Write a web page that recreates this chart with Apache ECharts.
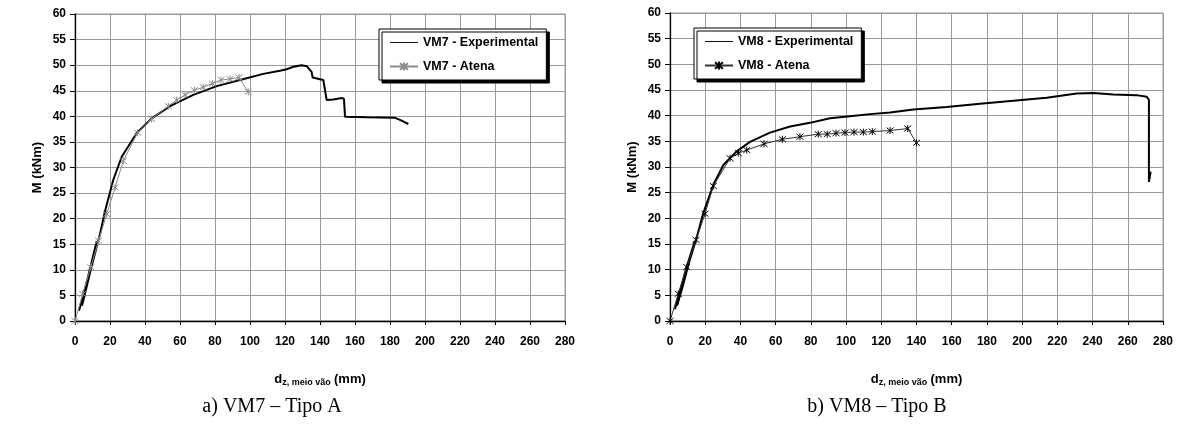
<!DOCTYPE html>
<html>
<head>
<meta charset="utf-8">
<script src="https://cdn.jsdelivr.net/npm/echarts@6/dist/echarts.min.js"></script>
<style>
html,body{margin:0;padding:0;background:#fff;}
#c{width:1182px;height:428px;}
</style>
</head>
<body>
<div id="c"></div>
<script>
// ---- Data ----
const xTicks = [0,20,40,60,80,100,120,140,160,180,200,220,240,260,280];
const yTicks = [0,5,10,15,20,25,30,35,40,45,50,55,60];

const vm7Experimental = [
  [2.3,2],[7,8],[12.4,15.6],[6,6],[4,3],[9,10],[14.3,17],[17.1,21.4],[21.9,27.6],[26.7,32.1],
  [35.2,36.7],[43.8,39.6],[54.3,42],[67.6,44.2],[81,45.9],[94.3,47.1],[107.6,48.3],[117.1,48.9],
  [121,49.2],[124.8,49.7],[129.5,50],[132.4,49.8],[135.2,48.7],[135.8,47.6],[141.9,47.1],[142.9,46.8],
  [143.8,43.2],[147.6,43.3],[152.4,43.6],[153.7,43.4],[154.3,39.9],[166.7,39.8],[182.9,39.7],
  [185.7,39.3],[190.5,38.5]
];
const vm7Atena = [
  [0,0],[4.4,5.3],[9,10.5],[13.5,15.7],[18.1,20.9],[22.9,26.1],[27.6,31.3],[35.8,36.8],[43.8,39.5],
  [53.3,42],[58.1,43.2],[62.9,44.2],[68.2,45.1],[73.3,45.7],[78.5,46.4],[83.4,47.1],[88.6,47.3],
  [93.7,47.6],[99,44.8]
];
const vm8Experimental = [
  [2.8,2.3],[9,10],[14,15.5],[7,6.5],[4,3],[10,10.5],[15.2,16.3],[18.9,21],[24.6,26.5],[30.3,30.4],
  [37.7,33],[45.4,34.9],[56.8,36.7],[68.2,37.9],[79.5,38.6],[87.1,39.2],[90.9,39.5],[102.2,39.9],
  [113.6,40.3],[125,40.6],[138.2,41.2],[157.1,41.7],[176.1,42.3],[195,42.9],[213.9,43.5],[231,44.3],
  [240.4,44.4],[251.8,44.1],[265,44],[270.7,43.7],[272,43.1],[272,27.1],[273,29.1]
];
const vm8Atena = [
  [0,0],[4.7,5.3],[9.5,10.5],[14.8,15.8],[19.9,20.9],[24.6,26.3],[34.1,31.7],[38.8,32.7],[43.6,33.3],
  [53.4,34.5],[63.8,35.4],[73.8,35.9],[84.2,36.4],[89.3,36.4],[94.3,36.6],[99.4,36.7],[104.5,36.8],
  [109.8,36.8],[114.9,36.9],[125,37.1],[135,37.5],[140,34.7]
];
const seriesNames = ['VM7 - Experimental','VM7 - Atena','VM8 - Experimental','VM8 - Atena'];
const captions = ['a) VM7 \u2013 Tipo A','b) VM8 \u2013 Tipo B'];
const yAxisTitle = 'M (kNm)';

// ---- Styling ----
const FONT = '"Liberation Sans", Arial, sans-serif';
const starPath = 'path://M0,0L10,10M10,0L0,10M5,-1L5,11';

function xAxis(gi){
  return {
    type:'value', gridIndex:gi, min:xTicks[0], max:xTicks[xTicks.length-1], interval:20,
    axisLine:{show:true,onZero:false,lineStyle:{color:'#000',width:1.3}},
    axisTick:{show:true,inside:false,length:4,lineStyle:{color:'#000'}},
    axisLabel:{color:'#000',fontFamily:FONT,fontWeight:'bold',fontSize:12,margin:15},
    splitLine:{show:true,lineStyle:{color:'#9a9a9a',width:1}},
    name:'{d|d}{s|z, meio vão} {d|(mm)}', nameLocation:'middle', nameGap:50,
    nameTextStyle:{rich:{
      d:{fontFamily:FONT,fontWeight:'bold',fontSize:13,color:'#000'},
      s:{fontFamily:FONT,fontWeight:'bold',fontSize:9,color:'#000',verticalAlign:'bottom',padding:[7,0,0,0]}
    }}
  };
}
function yAxis(gi){
  return {
    type:'value', gridIndex:gi, min:yTicks[0], max:yTicks[yTicks.length-1], interval:5,
    axisLine:{show:true,onZero:false,lineStyle:{color:'#000',width:1.3}},
    axisTick:{show:true,inside:false,length:5,lineStyle:{color:'#000'}},
    axisLabel:{color:'#000',fontFamily:FONT,fontWeight:'bold',fontSize:12,margin:9},
    splitLine:{show:true,lineStyle:{color:'#9a9a9a',width:1}},
    name:yAxisTitle, nameLocation:'middle', nameGap:31, nameRotate:90,
    nameTextStyle:{fontFamily:FONT,fontWeight:'bold',fontSize:13,color:'#000'}
  };
}
function legend(names, left, top, w){
  return {
    data:[{name:names[0], icon:'path://M0,0L30,0L30,1L0,1Z', itemStyle:{color:'#000'}}, {name:names[1]}],
    orient:'vertical', left:left, top:top, width:w,
    backgroundColor:'#fff', borderColor:'#000', borderWidth:1,
    shadowColor:'#000', shadowOffsetX:3, shadowOffsetY:3, shadowBlur:0,
    padding:[7,8,7,10], itemGap:11, itemWidth:28, itemHeight:10,
    textStyle:{fontFamily:FONT,fontWeight:'bold',fontSize:12.5,color:'#000'},
    selectedMode:false
  };
}

const option = {
  animation:false,
  backgroundColor:'#fff',
  grid:[
    {left:75, top:14, width:490, height:307, show:true, borderColor:'#9a9a9a', borderWidth:1, backgroundColor:'transparent'},
    {left:670, top:13, width:493, height:308, show:true, borderColor:'#9a9a9a', borderWidth:1, backgroundColor:'transparent'}
  ],
  xAxis:[xAxis(0), xAxis(1)],
  yAxis:[yAxis(0), yAxis(1)],
  legend:[
    legend([seriesNames[0],seriesNames[1]], 379, 29, 160),
    legend([seriesNames[2],seriesNames[3]], 694, 28, 165)
  ],
  series:[
    {name:seriesNames[0], type:'line', xAxisIndex:0, yAxisIndex:0, data:vm7Experimental,
     showSymbol:false, symbol:'none', lineStyle:{color:'#000',width:2}, itemStyle:{color:'#000'}, z:3},
    {name:seriesNames[1], type:'line', xAxisIndex:0, yAxisIndex:0, data:vm7Atena,
     symbol:starPath, symbolSize:7, showSymbol:true,
     lineStyle:{color:'#8c8c8c',width:1}, itemStyle:{color:'#8c8c8c',borderColor:'#8c8c8c',borderWidth:1}, z:4},
    {name:seriesNames[2], type:'line', xAxisIndex:1, yAxisIndex:1, data:vm8Experimental,
     showSymbol:false, symbol:'none', lineStyle:{color:'#000',width:2}, itemStyle:{color:'#000'}, z:3},
    {name:seriesNames[3], type:'line', xAxisIndex:1, yAxisIndex:1, data:vm8Atena,
     symbol:starPath, symbolSize:7, showSymbol:true,
     lineStyle:{color:'#333',width:1}, itemStyle:{color:'#000',borderColor:'#000',borderWidth:1}, z:4}
  ],
  graphic:[
    {type:'text', style:{text:captions[0], font:'20px "Liberation Serif", "Times New Roman", serif', fill:'#000', textAlign:'center', textVerticalAlign:'middle', x:272, y:407}},
    {type:'text', style:{text:captions[1], font:'20px "Liberation Serif", "Times New Roman", serif', fill:'#000', textAlign:'center', textVerticalAlign:'middle', x:877, y:407}}
  ]
};

const chart = echarts.init(document.getElementById('c'), null, {renderer:'canvas'});
chart.setOption(option);
</script>
</body>
</html>
